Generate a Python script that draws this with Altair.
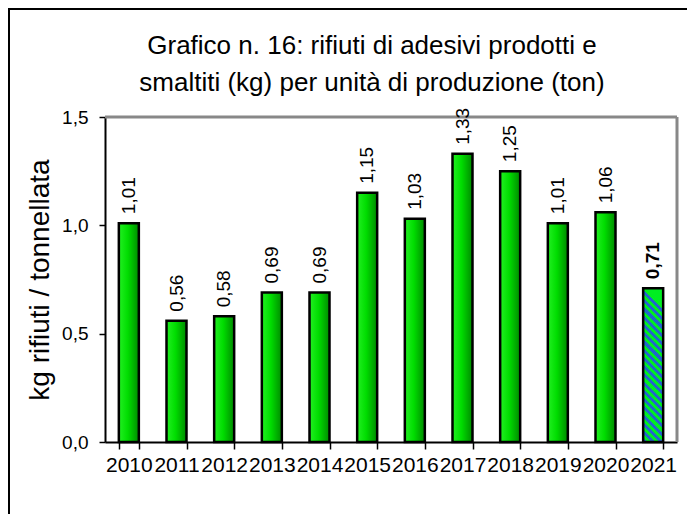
import altair as alt
import pandas as pd

years = ["2010", "2011", "2012", "2013", "2014", "2015", "2016", "2017", "2018", "2019", "2020", "2021"]
values = [1.01, 0.56, 0.58, 0.69, 0.69, 1.15, 1.03, 1.33, 1.25, 1.01, 1.06, 0.71]
highlight = ["no"] * 11 + ["yes"]
title_lines = ["Grafico n. 16: rifiuti di adesivi prodotti e",
               "smaltiti (kg) per unità di produzione (ton)"]

labels = [f"{v:.2f}".replace(".", ",") for v in values]
df = pd.DataFrame({"anno": years, "valore": values, "etichetta": labels, "ultimo": highlight})
one = pd.DataFrame({"k": [0]})

FONT = "Liberation Sans"
W, H = 572, 325

green_grad = alt.Gradient(
    gradient="linear", x1=0, y1=0, x2=1, y2=0,
    stops=[
        alt.GradientStop(offset=0, color="#22f022"),
        alt.GradientStop(offset=0.45, color="#00dd00"),
        alt.GradientStop(offset=1, color="#008a00"),
    ],
)

n_stripes = 19
stops = []
for i in range(n_stripes):
    a = i / n_stripes
    b = (i + 0.5) / n_stripes
    c = (i + 1) / n_stripes
    stops += [
        alt.GradientStop(offset=a, color="#00ee22"),
        alt.GradientStop(offset=b, color="#00ee22"),
        alt.GradientStop(offset=b, color="#2266cc"),
        alt.GradientStop(offset=c, color="#2266cc"),
    ]
hatch_grad = alt.Gradient(gradient="linear", x1=0.13, y1=0, x2=0, y2=1, stops=stops)

base = alt.Chart(df)

x_enc = alt.X(
    "anno:N",
    sort=years,
    title=None,
    scale=alt.Scale(paddingInner=0.58, paddingOuter=0.29),
    axis=alt.Axis(
        labelAngle=0, labelFont=FONT, labelFontSize=21, labelColor="black",
        labelPadding=5, tickBand="extent", tickSize=7, tickColor="black",
        tickWidth=1.5, domainColor="black", domainWidth=2, labelOverlap=False,
    ),
)
y_enc = alt.Y(
    "valore:Q",
    title="kg rifiuti / tonnellata",
    scale=alt.Scale(domain=[0, 1.5], nice=False),
    axis=alt.Axis(
        values=[0, 0.5, 1.0, 1.5],
        labelExpr="replace(format(datum.value, '.1f'), '.', ',')",
        labelFont=FONT, labelFontSize=19, labelColor="black", labelPadding=11,
        tickSize=6, tickColor="black", tickWidth=1.5, domainColor="black",
        domainWidth=2, grid=False, titleFont=FONT, titleFontSize=28,
        titleFontWeight="normal", titleColor="black", titlePadding=7,
    ),
)

# outer frame (left and top visible) and grey plot-area border (top and right)
frame = alt.Chart(one).mark_rect(fill=None, stroke="black", strokeWidth=2).encode(
    x=alt.value(-96), x2=alt.value(700), y=alt.value(-108), y2=alt.value(500)
)
border_top = alt.Chart(one).mark_rule(color="#888888", strokeWidth=3).encode(
    x=alt.value(0), x2=alt.value(W), y=alt.value(0)
)
border_right = alt.Chart(one).mark_rule(color="#888888", strokeWidth=3).encode(
    x=alt.value(W), y=alt.value(0), y2=alt.value(H)
)

bars_green = base.transform_filter("datum.ultimo == 'no'").mark_bar(
    size=20, fill=green_grad, stroke="black", strokeWidth=2.5
).encode(x=x_enc, y=y_enc)

bars_hatch = base.transform_filter("datum.ultimo == 'yes'").mark_bar(
    size=20, fill=hatch_grad, stroke="black", strokeWidth=2.5
).encode(x=x_enc, y=y_enc)

text_normal = base.transform_filter("datum.ultimo == 'no'").mark_text(
    angle=270, align="left", baseline="middle", font=FONT, fontSize=19,
    color="black", yOffset=-9,
).encode(x=x_enc, y=y_enc, text="etichetta:N")

text_bold = base.transform_filter("datum.ultimo == 'yes'").mark_text(
    angle=270, align="left", baseline="middle", font=FONT, fontSize=19,
    fontWeight="bold", color="black", yOffset=-9,
).encode(x=x_enc, y=y_enc, text="etichetta:N")

title1 = alt.Chart(one).mark_text(
    font=FONT, fontSize=26, color="black", align="center", baseline="alphabetic"
).encode(x=alt.value(267), y=alt.value(-63), text=alt.value(title_lines[0]))
title2 = alt.Chart(one).mark_text(
    font=FONT, fontSize=26, color="black", align="center", baseline="alphabetic"
).encode(x=alt.value(267), y=alt.value(-26), text=alt.value(title_lines[1]))

chart = alt.layer(
    frame, bars_green, bars_hatch, border_top, border_right,
    text_normal, text_bold, title1, title2
).properties(
    width=W,
    height=H,
    autosize=alt.AutoSizeParams(type="none"),
    padding={"left": 97, "top": 109, "right": 10, "bottom": 72},
).configure_view(stroke=None).configure(background="white")

chart.save("out.html", embed_options={"renderer": "svg", "actions": False})
